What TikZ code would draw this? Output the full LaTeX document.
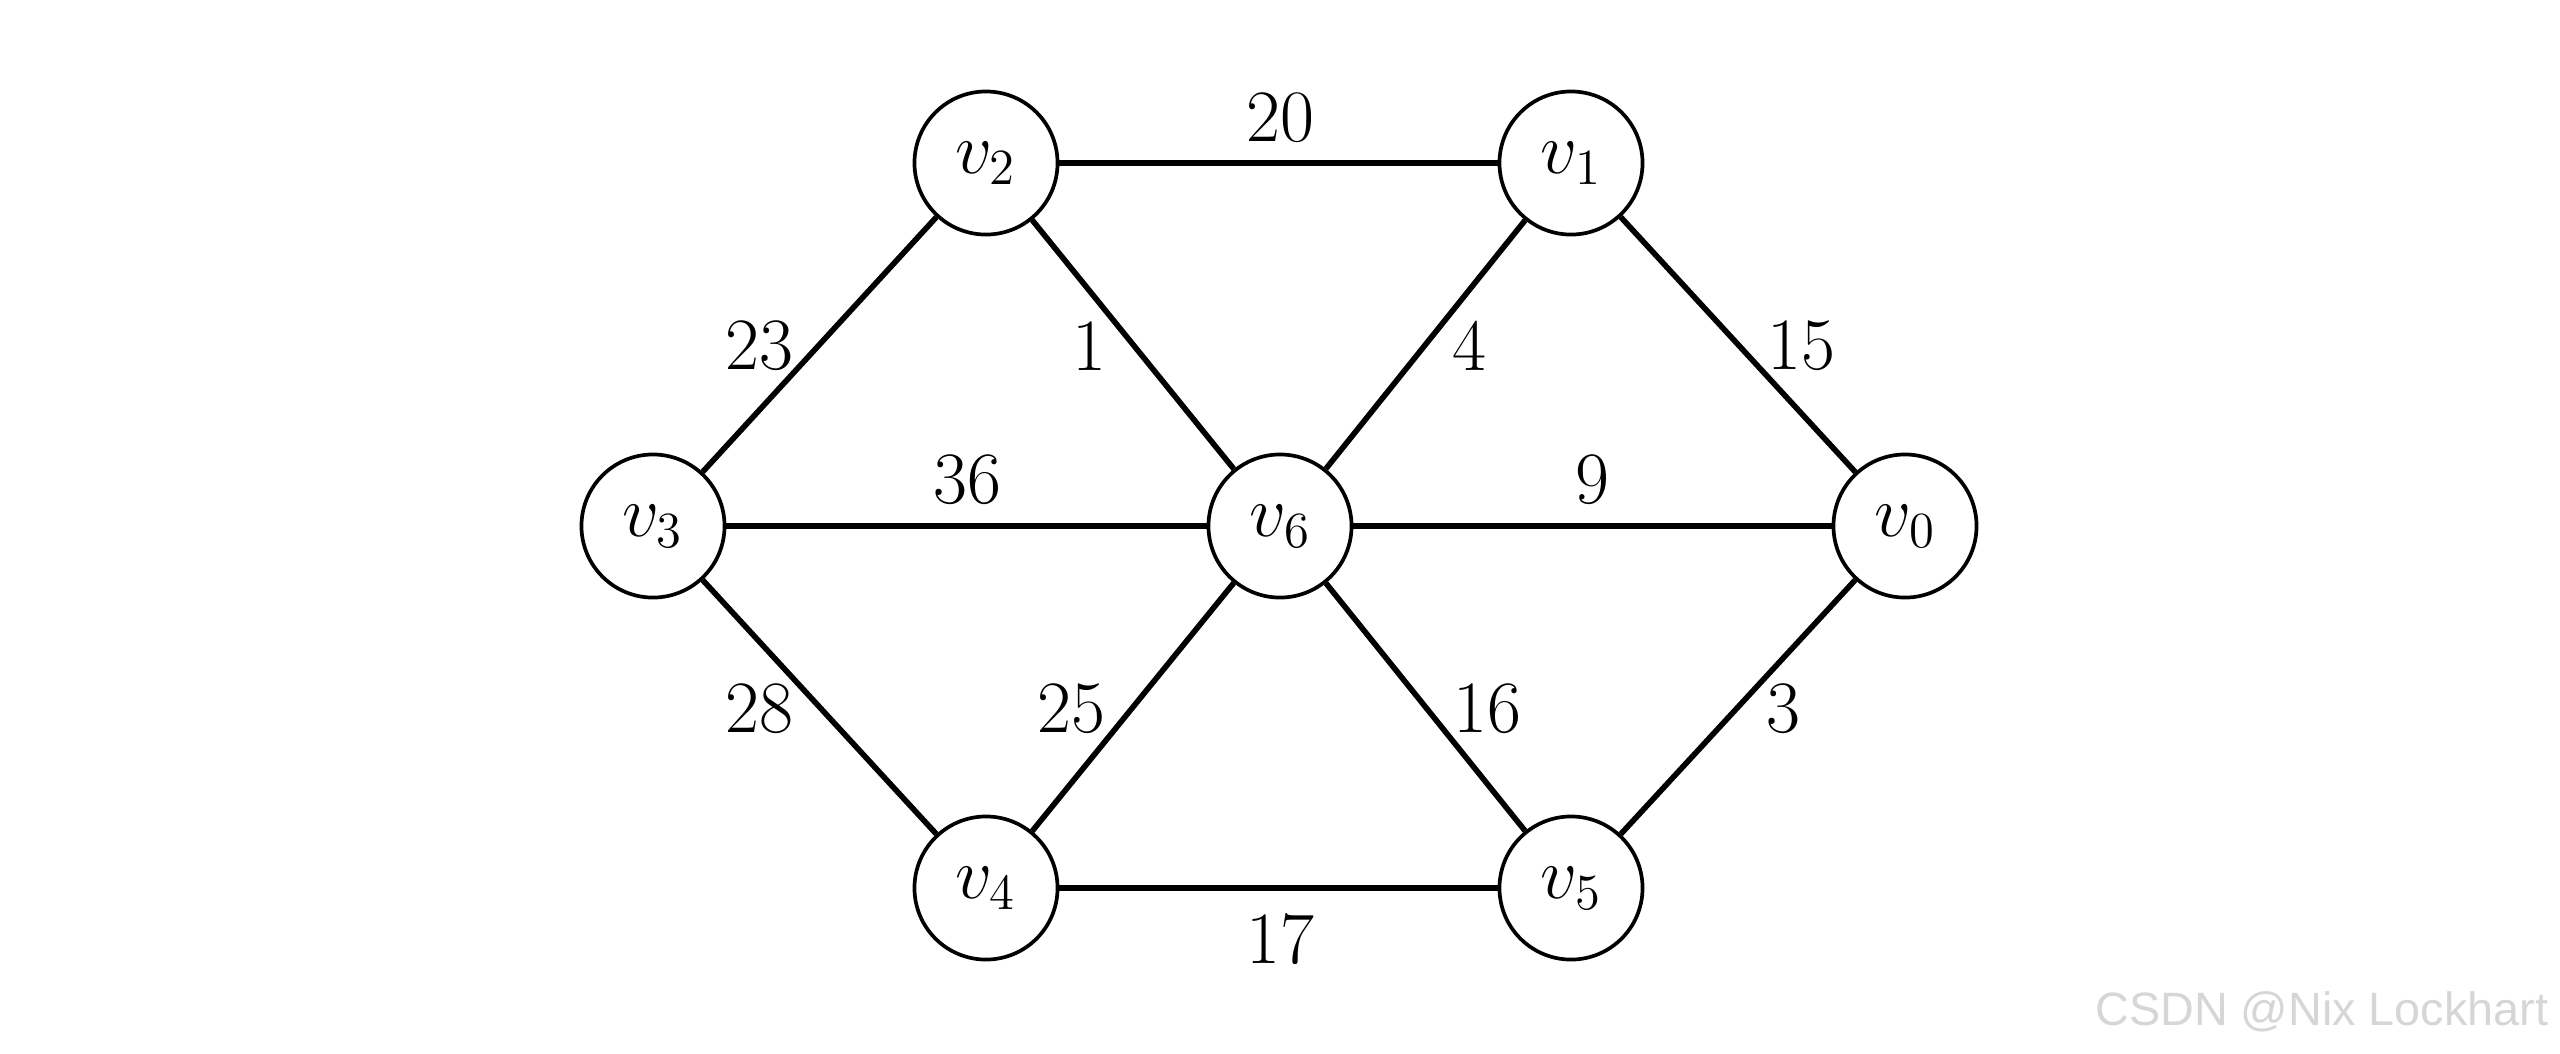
\documentclass[tikz,border=0pt]{standalone}
\usepackage{fontspec}
\newfontfamily\wmfont{Liberation Sans}
\begin{document}
\begin{tikzpicture}[x=0.01cm,y=-0.01cm,
  vert/.style={circle,draw,line width=1.05pt,minimum size=1.43cm,inner sep=0pt,fill=white,font=\fontsize{21}{25}\selectfont},
  edge/.style={line width=1.6pt},
  wlab/.style={font=\fontsize{21}{25}\selectfont,inner sep=0pt}]
\useasboundingbox (0,0) rectangle (2560,1053);
\node[vert] (v2) at (986,163) {$v_2$};
\node[vert] (v1) at (1571,163) {$v_1$};
\node[vert] (v3) at (653,526) {$v_3$};
\node[vert] (v6) at (1280,526) {$v_6$};
\node[vert] (v0) at (1905,526) {$v_0$};
\node[vert] (v4) at (986,888) {$v_4$};
\node[vert] (v5) at (1571,888) {$v_5$};
\draw[edge] (v2) -- (v1);
\draw[edge] (v2) -- (v3);
\draw[edge] (v2) -- (v6);
\draw[edge] (v1) -- (v6);
\draw[edge] (v1) -- (v0);
\draw[edge] (v3) -- (v6);
\draw[edge] (v6) -- (v0);
\draw[edge] (v3) -- (v4);
\draw[edge] (v6) -- (v4);
\draw[edge] (v6) -- (v5);
\draw[edge] (v0) -- (v5);
\draw[edge] (v4) -- (v5);
\node[wlab] (l20) at (1280,118) {20};
\node[wlab] (l23) at (759,346) {23};
\node[wlab] (l1) at (1089,346) {1};
\node[wlab] (l4) at (1469,346) {4};
\node[wlab] (l15) at (1801,346) {15};
\node[wlab] (l36) at (967,480) {36};
\node[wlab] (l9) at (1592,480) {9};
\node[wlab] (l28) at (759,709) {28};
\node[wlab] (l25) at (1071,709) {25};
\node[wlab] (l16) at (1487,709) {16};
\node[wlab] (l3) at (1783,709) {3};
\node[wlab] (l17) at (1280,939) {17};
\node[font=\wmfont\fontsize{13.3}{15}\selectfont,text=black!16,anchor=base east,inner sep=0pt] (wm) at (2549,1025) {CSDN @Nix Lockhart};
\end{tikzpicture}
\end{document}
